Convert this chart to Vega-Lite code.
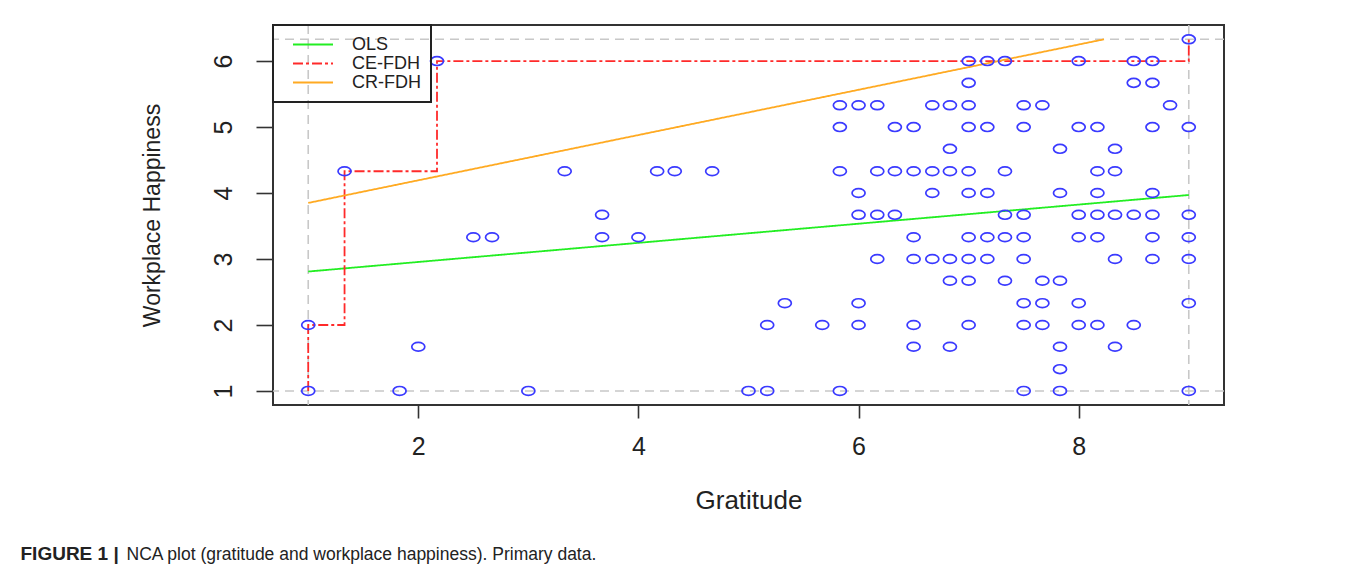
{
  "$schema": "https://vega.github.io/schema/vega-lite/v6.json",
  "width": 951,
  "height": 380,
  "autosize": {"type": "none"},
  "padding": {"left": 273, "top": 25, "right": 133, "bottom": 172},
  "background": "white",
  "datasets": {
    "points": [
      {"gratitude": 9, "happiness": 6.33},
      {"gratitude": 2.17, "happiness": 6}, {"gratitude": 7, "happiness": 6}, {"gratitude": 7.17, "happiness": 6}, {"gratitude": 7.33, "happiness": 6}, {"gratitude": 8, "happiness": 6}, {"gratitude": 8.5, "happiness": 6}, {"gratitude": 8.67, "happiness": 6},
      {"gratitude": 7, "happiness": 5.67}, {"gratitude": 8.5, "happiness": 5.67}, {"gratitude": 8.67, "happiness": 5.67},
      {"gratitude": 5.83, "happiness": 5.33}, {"gratitude": 6, "happiness": 5.33}, {"gratitude": 6.17, "happiness": 5.33}, {"gratitude": 6.67, "happiness": 5.33}, {"gratitude": 6.83, "happiness": 5.33}, {"gratitude": 7, "happiness": 5.33}, {"gratitude": 7.5, "happiness": 5.33}, {"gratitude": 7.67, "happiness": 5.33}, {"gratitude": 8.83, "happiness": 5.33},
      {"gratitude": 5.83, "happiness": 5}, {"gratitude": 6.33, "happiness": 5}, {"gratitude": 6.5, "happiness": 5}, {"gratitude": 7, "happiness": 5}, {"gratitude": 7.17, "happiness": 5}, {"gratitude": 7.5, "happiness": 5}, {"gratitude": 8, "happiness": 5}, {"gratitude": 8.17, "happiness": 5}, {"gratitude": 8.67, "happiness": 5}, {"gratitude": 9, "happiness": 5},
      {"gratitude": 6.83, "happiness": 4.67}, {"gratitude": 7.83, "happiness": 4.67}, {"gratitude": 8.33, "happiness": 4.67},
      {"gratitude": 1.33, "happiness": 4.33}, {"gratitude": 3.33, "happiness": 4.33}, {"gratitude": 4.17, "happiness": 4.33}, {"gratitude": 4.33, "happiness": 4.33}, {"gratitude": 4.67, "happiness": 4.33}, {"gratitude": 5.83, "happiness": 4.33}, {"gratitude": 6.17, "happiness": 4.33}, {"gratitude": 6.33, "happiness": 4.33}, {"gratitude": 6.5, "happiness": 4.33}, {"gratitude": 6.67, "happiness": 4.33}, {"gratitude": 6.83, "happiness": 4.33}, {"gratitude": 7, "happiness": 4.33}, {"gratitude": 7.33, "happiness": 4.33}, {"gratitude": 8.17, "happiness": 4.33}, {"gratitude": 8.33, "happiness": 4.33},
      {"gratitude": 6, "happiness": 4}, {"gratitude": 6.67, "happiness": 4}, {"gratitude": 7, "happiness": 4}, {"gratitude": 7.17, "happiness": 4}, {"gratitude": 7.83, "happiness": 4}, {"gratitude": 8.17, "happiness": 4}, {"gratitude": 8.67, "happiness": 4},
      {"gratitude": 3.67, "happiness": 3.67}, {"gratitude": 6, "happiness": 3.67}, {"gratitude": 6.17, "happiness": 3.67}, {"gratitude": 6.33, "happiness": 3.67}, {"gratitude": 7.33, "happiness": 3.67}, {"gratitude": 7.5, "happiness": 3.67}, {"gratitude": 8, "happiness": 3.67}, {"gratitude": 8.17, "happiness": 3.67}, {"gratitude": 8.33, "happiness": 3.67}, {"gratitude": 8.5, "happiness": 3.67}, {"gratitude": 8.67, "happiness": 3.67}, {"gratitude": 9, "happiness": 3.67},
      {"gratitude": 2.5, "happiness": 3.33}, {"gratitude": 2.67, "happiness": 3.33}, {"gratitude": 3.67, "happiness": 3.33}, {"gratitude": 4, "happiness": 3.33}, {"gratitude": 6.5, "happiness": 3.33}, {"gratitude": 7, "happiness": 3.33}, {"gratitude": 7.17, "happiness": 3.33}, {"gratitude": 7.33, "happiness": 3.33}, {"gratitude": 7.5, "happiness": 3.33}, {"gratitude": 8, "happiness": 3.33}, {"gratitude": 8.17, "happiness": 3.33}, {"gratitude": 8.67, "happiness": 3.33}, {"gratitude": 9, "happiness": 3.33},
      {"gratitude": 6.17, "happiness": 3}, {"gratitude": 6.5, "happiness": 3}, {"gratitude": 6.67, "happiness": 3}, {"gratitude": 6.83, "happiness": 3}, {"gratitude": 7, "happiness": 3}, {"gratitude": 7.17, "happiness": 3}, {"gratitude": 7.5, "happiness": 3}, {"gratitude": 8.33, "happiness": 3}, {"gratitude": 8.67, "happiness": 3}, {"gratitude": 9, "happiness": 3},
      {"gratitude": 6.83, "happiness": 2.67}, {"gratitude": 7, "happiness": 2.67}, {"gratitude": 7.33, "happiness": 2.67}, {"gratitude": 7.67, "happiness": 2.67}, {"gratitude": 7.83, "happiness": 2.67},
      {"gratitude": 5.33, "happiness": 2.33}, {"gratitude": 6, "happiness": 2.33}, {"gratitude": 7.5, "happiness": 2.33}, {"gratitude": 7.67, "happiness": 2.33}, {"gratitude": 8, "happiness": 2.33}, {"gratitude": 9, "happiness": 2.33},
      {"gratitude": 1, "happiness": 2}, {"gratitude": 5.17, "happiness": 2}, {"gratitude": 5.67, "happiness": 2}, {"gratitude": 6, "happiness": 2}, {"gratitude": 6.5, "happiness": 2}, {"gratitude": 7, "happiness": 2}, {"gratitude": 7.5, "happiness": 2}, {"gratitude": 7.67, "happiness": 2}, {"gratitude": 8, "happiness": 2}, {"gratitude": 8.17, "happiness": 2}, {"gratitude": 8.5, "happiness": 2},
      {"gratitude": 2, "happiness": 1.67}, {"gratitude": 6.5, "happiness": 1.67}, {"gratitude": 6.83, "happiness": 1.67}, {"gratitude": 7.83, "happiness": 1.67}, {"gratitude": 8.33, "happiness": 1.67},
      {"gratitude": 7.83, "happiness": 1.33},
      {"gratitude": 1, "happiness": 1}, {"gratitude": 1.83, "happiness": 1}, {"gratitude": 3, "happiness": 1}, {"gratitude": 5, "happiness": 1}, {"gratitude": 5.17, "happiness": 1}, {"gratitude": 5.83, "happiness": 1}, {"gratitude": 7.5, "happiness": 1}, {"gratitude": 7.83, "happiness": 1}, {"gratitude": 9, "happiness": 1}
    ],
    "lines": [
      {"series": "OLS", "i": 1, "gratitude": 1, "happiness": 2.81},
      {"series": "OLS", "i": 2, "gratitude": 9, "happiness": 3.97},
      {"series": "CE-FDH", "i": 1, "gratitude": 1, "happiness": 1},
      {"series": "CE-FDH", "i": 2, "gratitude": 1, "happiness": 2},
      {"series": "CE-FDH", "i": 3, "gratitude": 1.33, "happiness": 2},
      {"series": "CE-FDH", "i": 4, "gratitude": 1.33, "happiness": 4.33},
      {"series": "CE-FDH", "i": 5, "gratitude": 2.17, "happiness": 4.33},
      {"series": "CE-FDH", "i": 6, "gratitude": 2.17, "happiness": 6},
      {"series": "CE-FDH", "i": 7, "gratitude": 9, "happiness": 6},
      {"series": "CE-FDH", "i": 8, "gratitude": 9, "happiness": 6.33},
      {"series": "CR-FDH", "i": 1, "gratitude": 1, "happiness": 3.85},
      {"series": "CR-FDH", "i": 2, "gratitude": 8.23, "happiness": 6.33}
    ],
    "vscope": [{"gratitude": 1}, {"gratitude": 9}],
    "hscope": [{"happiness": 1}, {"happiness": 6.33}]
  },
  "resolve": {"axis": {"x": "independent"}},
  "layer": [
    {
      "data": {"name": "vscope"},
      "mark": {"type": "rule", "color": "#c8c8c8", "strokeWidth": 1.6, "strokeDash": [9, 6]},
      "encoding": {
        "x": {
          "field": "gratitude", "type": "quantitative",
          "scale": {"domain": [0.68, 9.32], "nice": false, "zero": false},
          "axis": {
            "title": "FIGURE 1 |", "orient": "bottom", "domain": false, "ticks": false, "labels": false, "grid": false,
            "titleFont": "Liberation Sans", "titleFontSize": 19, "titleFontWeight": "bold", "titleColor": "#222222",
            "titleX": -253, "titleY": 154, "titleAlign": "left", "titleAnchor": "start", "titleBaseline": "alphabetic", "titleAngle": 0
          }
        }
      }
    },
    {
      "data": {"name": "hscope"},
      "mark": {"type": "rule", "color": "#c8c8c8", "strokeWidth": 1.6, "strokeDash": [9, 6]},
      "encoding": {
        "y": {"field": "happiness", "type": "quantitative", "scale": {"domain": [0.787, 6.547], "nice": false, "zero": false}}
      }
    },
    {
      "data": {"name": "lines"},
      "mark": {"type": "line", "strokeWidth": 1.8},
      "encoding": {
        "x": {
          "field": "gratitude", "type": "quantitative",
          "scale": {"domain": [0.68, 9.32], "nice": false, "zero": false},
          "axis": {
            "title": "NCA plot (gratitude and workplace happiness). Primary data.", "orient": "bottom", "domain": false, "ticks": false, "labels": false, "grid": false,
            "titleFont": "Liberation Sans", "titleFontSize": 17.5, "titleFontWeight": "normal", "titleColor": "#222222",
            "titleX": -147, "titleY": 154, "titleAlign": "left", "titleAnchor": "start", "titleBaseline": "alphabetic", "titleAngle": 0
          }
        },
        "y": {"field": "happiness", "type": "quantitative", "scale": {"domain": [0.787, 6.547], "nice": false, "zero": false}},
        "order": {"field": "i", "type": "quantitative"},
        "color": {
          "field": "series", "type": "nominal",
          "scale": {"domain": ["OLS", "CE-FDH", "CR-FDH"], "range": ["#22ee22", "#ff2a2a", "#ffaa22"]},
          "legend": {
            "title": null, "orient": "top-left", "offset": 0,
            "strokeColor": "#222222", "fillColor": null, "padding": 10,
            "symbolType": "stroke", "symbolSize": 1600, "symbolStrokeWidth": 2, "symbolOffset": 9,
            "labelFontSize": 18, "labelOffset": 18, "labelColor": "#222222", "labelFont": "Liberation Sans",
            "clipHeight": 19, "rowPadding": 0,
            "encode": {"legend": {"update": {"strokeWidth": {"value": 2}}}}
          }
        },
        "strokeDash": {
          "field": "series", "type": "nominal",
          "scale": {"domain": ["OLS", "CE-FDH", "CR-FDH"], "range": [[1, 0], [10, 3, 3, 3], [1, 0]]},
          "legend": {
            "title": null, "orient": "top-left", "offset": 0,
            "strokeColor": "#222222", "fillColor": null, "padding": 10,
            "symbolType": "stroke", "symbolSize": 1600, "symbolStrokeWidth": 2, "symbolOffset": 9,
            "labelFontSize": 18, "labelOffset": 18, "labelColor": "#222222", "labelFont": "Liberation Sans",
            "clipHeight": 19, "rowPadding": 0,
            "encode": {"legend": {"update": {"strokeWidth": {"value": 2}}}}
          }
        }
      }
    },
    {
      "data": {"name": "points"},
      "mark": {"type": "point", "shape": "M-1,0A1,0.68,0,1,1,1,0A1,0.68,0,1,1,-1,0Z", "size": 170, "filled": false, "color": "#3a3aff", "strokeWidth": 1.7, "opacity": 1},
      "encoding": {
        "x": {
          "field": "gratitude", "type": "quantitative",
          "scale": {"domain": [0.68, 9.32], "nice": false, "zero": false},
          "axis": {
            "title": "Gratitude", "orient": "bottom", "values": [2, 4, 6, 8], "format": "d", "grid": false, "domain": false,
            "tickSize": 13, "tickWidth": 1.6, "tickColor": "#333333",
            "labelFontSize": 25, "labelPadding": 16, "labelColor": "#222222", "labelFont": "Liberation Sans",
            "titleFontSize": 26, "titleFontWeight": "normal", "titleColor": "#222222", "titleFont": "Liberation Sans", "titlePadding": 28
          }
        },
        "y": {
          "field": "happiness", "type": "quantitative",
          "scale": {"domain": [0.787, 6.547], "nice": false, "zero": false},
          "axis": {
            "title": "Workplace Happiness", "values": [1, 2, 3, 4, 5, 6], "format": "d", "grid": false, "domain": false,
            "tickSize": 17, "tickWidth": 1.6, "tickColor": "#333333",
            "labelAngle": -90, "labelFontSize": 25, "labelPadding": 20, "labelColor": "#222222", "labelFont": "Liberation Sans",
            "titleFontSize": 23, "titleFontWeight": "normal", "titleColor": "#222222", "titleFont": "Liberation Sans", "titlePadding": 47
          }
        }
      }
    }
  ],
  "config": {
    "view": {"stroke": "#333333", "strokeWidth": 2},
    "font": "Liberation Sans"
  }
}
